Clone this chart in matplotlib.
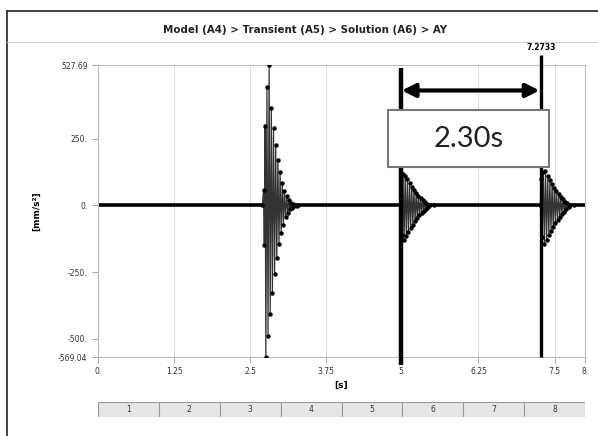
import matplotlib.pyplot as plt
from matplotlib.patches import Rectangle
from matplotlib.lines import Line2D

# 波形データ
burst1_t = [2.700, 2.720, 2.732, 2.745, 2.757, 2.775, 2.793, 2.811, 2.829, 2.847,
            2.865, 2.883, 2.901, 2.919, 2.937, 2.955, 2.973, 2.991, 3.009, 3.027,
            3.045, 3.063, 3.081, 3.099, 3.117, 3.135, 3.153, 3.171, 3.189, 3.207,
            3.225, 3.243, 3.261, 3.290]
burst1_a = [0, 60, -150, 300, -569.04, 444, -489, 527.69, -406, 365,
            -327, 290, -256, 226, -196, 169, -143, 124, -105, 86,
            -72, 56, -45, 35, -27, 20, -15, 11, -8, 5,
            -3, 2, -1, 0]

burst2_t = [4.960, 4.975, 4.992, 5.010, 5.028, 5.046, 5.064, 5.082, 5.100, 5.118,
            5.136, 5.154, 5.172, 5.190, 5.208, 5.226, 5.244, 5.262, 5.280, 5.298,
            5.316, 5.334, 5.352, 5.370, 5.388, 5.406, 5.424, 5.450, 5.520]
burst2_a = [0, 95, -110, 120, -131, 112, -115, 98, -100, 84,
            -86, 70, -72, 58, -59, 47, -47, 37, -37, 28,
            -28, 20, -20, 13, -13, 7, -6, 3, 0]

burst3_t = [7.265, 7.280, 7.297, 7.315, 7.333, 7.351, 7.369, 7.387, 7.405, 7.423,
            7.441, 7.459, 7.477, 7.495, 7.513, 7.531, 7.549, 7.567, 7.585, 7.603,
            7.621, 7.639, 7.657, 7.675, 7.693, 7.711, 7.729, 7.755, 7.820]
burst3_a = [0, 100, -120, 125, -143, 130, -128, 110, -112, 94,
            -95, 79, -80, 65, -66, 53, -53, 42, -42, 32,
            -32, 23, -23, 15, -15, 8, -7, 3, 0]

x_ticks = [0, 1.25, 2.5, 3.75, 5, 6.25, 7.5, 8]
x_tick_labels = ['0.', '1.25', '2.5', '3.75', '5.', '6.25', '7.5', '8.']
y_ticks = [527.69, 250, 0, -250, -500, -569.04]
y_tick_labels = ['527.69', '250.', '0.', '-250.', '-500.', '-569.04']

cursor1 = 4.97
cursor2 = 7.2733
frames = [1, 2, 3, 4, 5, 6, 7, 8]

W, H = 598, 436
fig = plt.figure(figsize=(W / 100, H / 100), dpi=100)
plt.rcParams['font.family'] = ['DejaVu Sans']

# 外枠
fig.add_artist(Line2D([7 / W, 7 / W], [0, 1 - 11 / H], color='#333333', lw=1.3))
fig.add_artist(Line2D([7 / W, 1], [1 - 11 / H, 1 - 11 / H], color='#333333', lw=1.3))
fig.add_artist(Line2D([7 / W, 1], [1 - 42 / H, 1 - 42 / H], color='#cccccc', lw=0.8))

fig.text(305 / W, 1 - 30 / H, 'Model (A4) > Transient (A5) > Solution (A6) > AY',
         ha='center', va='center', fontsize=7.4, fontweight='bold', color='#222222')

ax = fig.add_axes([98 / W, 1 - 357 / H, 487 / W, 292 / H])
ax.set_xlim(0, 8)
ax.set_ylim(-569.04, 527.69)

for x in x_ticks:
    ax.axvline(x, color='#dddddd', lw=0.8, zorder=0)

# ゼロ線
ax.plot([0, 8], [0, 0], color='black', lw=2.6, zorder=2, solid_capstyle='butt')

for t, a in [(burst1_t, burst1_a), (burst2_t, burst2_a), (burst3_t, burst3_a)]:
    ax.plot(t, a, color='#333333', lw=0.9, marker='o', ms=2.2, mfc='black', mec='black', zorder=3)

# カーソル
ax.plot([cursor1, cursor1], [-600, 515], color='black', lw=3.2, zorder=4, clip_on=False, solid_capstyle='butt')
ax.plot([cursor2, cursor2], [-569.04, 564], color='black', lw=2.4, zorder=4, clip_on=False, solid_capstyle='butt')
ax.text(cursor2, 594, '7.2733', ha='center', va='center', fontsize=5.5, fontweight='bold', clip_on=False)

ax.annotate('', xy=(cursor1 + 0.02, 432), xytext=(cursor2 - 0.02, 432),
            arrowprops=dict(arrowstyle='<|-|>', lw=3, mutation_scale=20, color='black',
                            shrinkA=0, shrinkB=0), zorder=5)

ax.add_patch(Rectangle((4.77, 143), 2.64, 214, facecolor='white', edgecolor='#777777', lw=1.5, zorder=6))
ax.text(6.09, 250, '2.30s', ha='center', va='center', fontsize=21, color='#222222',
        family='Lato', zorder=7)

ax.set_xticks(x_ticks)
ax.set_xticklabels(x_tick_labels)
ax.set_yticks(y_ticks)
ax.set_yticklabels(y_tick_labels)
ax.tick_params(axis='both', labelsize=5.5, colors='#999999', labelcolor='#333333', length=4, width=0.6)
for s in ax.spines.values():
    s.set_color('#bbbbbb')
    s.set_linewidth(0.8)

ax.set_xlabel('[s]', fontsize=6.5, fontweight='bold', labelpad=3)
ax.set_ylabel('[mm/s²]', fontsize=6.5, fontweight='bold', labelpad=12)

# フレームバー
bar = fig.add_axes([98 / W, 1 - 417 / H, 487 / W, 15 / H])
bar.set_xlim(0, 8)
bar.set_ylim(0, 1)
bar.axis('off')
for i, f in enumerate(frames):
    bar.add_patch(Rectangle((i, 0), 1, 1, facecolor='#e6e6e6', edgecolor='#999999', lw=0.8))
    bar.text(i + 0.5, 0.5, str(f), ha='center', va='center', fontsize=5.5, color='#333333')

fig.savefig('out.png', dpi=100)
